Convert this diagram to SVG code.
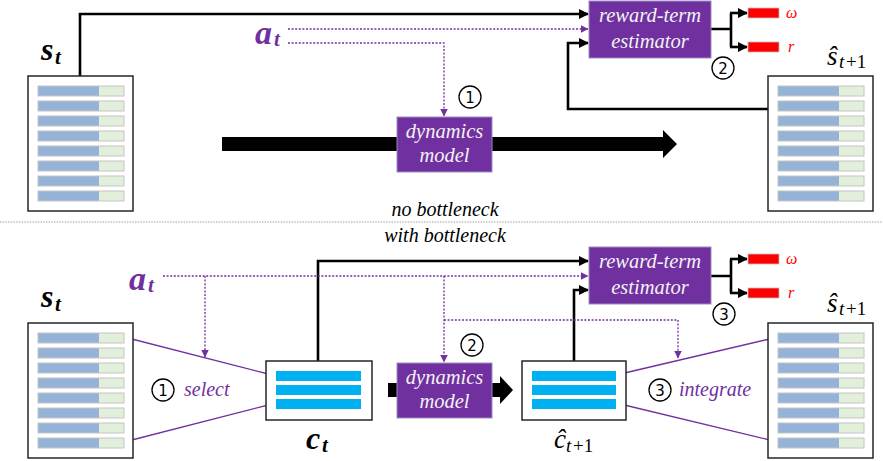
<svg xmlns="http://www.w3.org/2000/svg" xmlns:xlink="http://www.w3.org/1999/xlink" width="883" height="461" viewBox="0 0 883 461">
<style>
.box{fill:#fff;stroke:#262626;stroke-width:1.5}
.pbox{fill:#7030A0;stroke:#9C8DC2;stroke-width:1}
.sf{font-family:'Liberation Serif','Times New Roman','DejaVu Serif',serif}
.ptxt{font-style:italic;font-size:20.5px;fill:#F2F2F2;text-anchor:middle}
.conn{fill:none;stroke:#000;stroke-width:2.6}
.dot{fill:none;stroke:#7030A0;stroke-width:1.3;stroke-dasharray:2 1.6}
.pl{fill:none;stroke:#7030A0;stroke-width:1.4}
.red{fill:#FF0000;stroke:#BFBFBF;stroke-width:0.8}
.rlab{font-style:italic;font-size:16px;fill:#FF0000}
.cap{font-style:italic;font-size:20px;fill:#000;text-anchor:middle}
.ptext{font-style:italic;font-size:20px;fill:#7030A0}
.mb{font-style:italic;font-weight:bold;fill:#000}
.mr{font-style:italic;fill:#000}
.pa{font-style:italic;font-weight:bold;fill:#7030A0}
.circ{fill:none;stroke:#000;stroke-width:1.3}
.num{font-family:'DejaVu Sans',sans-serif;font-size:15px;fill:#000;text-anchor:middle}
.cyan{fill:#00B0F0}
</style>
<defs>
<g id="bar"><rect x="0" y="0" width="61" height="10" fill="#95B3D7"/><rect x="61" y="0" width="25" height="10" fill="#E2EFDA"/><rect x="0" y="0" width="86" height="10" fill="none" stroke="#C4C4C4" stroke-width="1"/></g>
<g id="bars"><use xlink:href="#bar" y="0"/><use xlink:href="#bar" y="15"/><use xlink:href="#bar" y="30"/><use xlink:href="#bar" y="45"/><use xlink:href="#bar" y="60"/><use xlink:href="#bar" y="75"/><use xlink:href="#bar" y="90"/><use xlink:href="#bar" y="105"/></g>
<marker id="ah" markerWidth="10" markerHeight="10" refX="9" refY="5" orient="auto" markerUnits="userSpaceOnUse"><path d="M0,0 L10,5 L0,10 Z" fill="#000"/></marker>
<marker id="ahp" markerWidth="8" markerHeight="8" refX="7.5" refY="4" orient="auto" markerUnits="userSpaceOnUse"><path d="M0,0 L8,4 L0,8 Z" fill="#7030A0"/></marker>
</defs>

<!-- divider -->
<line x1="0" y1="222" x2="883" y2="222" stroke="#A0A0A0" stroke-width="1.2" stroke-dasharray="1.5 1.2"/>
<text class="sf cap" x="445" y="216">no bottleneck</text>
<text class="sf cap" x="445" y="242">with bottleneck</text>

<g id="connectors">
<!-- top -->
<path d="M222,137 H663 V130 L677,144 L663,158 V151 H222 Z" fill="#000"/>
<path class="conn" d="M80,76 V14 H588" marker-end="url(#ah)"/>
<path class="conn" d="M768,109 H568 V43 H588" marker-end="url(#ah)"/>
<path class="dot" d="M288,29 H588" marker-end="url(#ahp)"/>
<path class="dot" d="M288,43 H444 V116" marker-end="url(#ahp)"/>
<path class="conn" d="M711,29 H731 M731,13 V47"/>
<path class="conn" d="M730,13 H747" marker-end="url(#ah)"/>
<path class="conn" d="M730,47 H747" marker-end="url(#ah)"/>
<!-- bottom -->
<path d="M388,383 H500 V376 L513,390 L500,404 V397 H388 Z" fill="#000"/>
<path class="conn" d="M318,361 V261 H588" marker-end="url(#ah)"/>
<path class="conn" d="M574,361 V290 H588" marker-end="url(#ah)"/>
<path class="dot" d="M163,276 H588" marker-end="url(#ahp)"/>
<path class="dot" d="M205,276 V357" marker-end="url(#ahp)"/>
<path class="dot" d="M444,276 V362" marker-end="url(#ahp)"/>
<path class="dot" d="M444,320 H678 V358" marker-end="url(#ahp)"/>
<path class="conn" d="M711,276 H731 M731,259 V293"/>
<path class="conn" d="M730,259 H747" marker-end="url(#ah)"/>
<path class="conn" d="M730,293 H747" marker-end="url(#ah)"/>
<path class="pl" d="M124,337 L276,376 M124,442 L276,403"/>
<path class="pl" d="M616,375 L778,337 M616,403 L778,442"/>
</g>

<!-- TOP -->
<g id="s_t_top">
<rect class="box" x="28" y="76" width="105" height="135"/>
<use xlink:href="#bars" x="38" y="86"/>
<text class="sf mb" x="41" y="60" font-size="32">s</text><text class="sf mb" x="55" y="64" font-size="21">t</text>
</g>
<g id="a_t_top">
<text class="sf pa" x="255" y="44" font-size="34">a</text>
<text class="sf pa" x="274" y="46" font-size="21">t</text>
</g>
<g id="dyn_top">
<rect class="pbox" x="397" y="117" width="95" height="55"/>
<text class="sf ptxt" x="444.5" y="138">dynamics</text>
<text class="sf ptxt" x="444.5" y="162">model</text>
</g>
<g id="est_top">
<rect class="pbox" x="589" y="1" width="122" height="57"/>
<text class="sf ptxt" x="650" y="22">reward-term</text>
<text class="sf ptxt" x="650" y="48">estimator</text>
</g>
<g id="out_top">
<rect class="red" x="748" y="8" width="31" height="10"/>
<rect class="red" x="748" y="42" width="31" height="10"/>
<text class="sf rlab" x="786" y="18">ω</text>
<text class="sf rlab" x="788" y="52">r</text>
</g>
<g id="s_hat_top">
<rect class="box" x="768" y="76" width="105" height="135"/>
<use xlink:href="#bars" x="778" y="86"/>
<text class="sf mr" x="827" y="65" font-size="27">ŝ</text><text class="sf mr" x="839" y="68" font-size="19">t</text><text class="sf" x="846" y="68" font-size="19">+1</text>
</g>
<g id="n1_top"><circle class="circ" cx="470" cy="97" r="11"/><text class="num" x="470" y="102.5">1</text></g>
<g id="n2_top"><circle class="circ" cx="723" cy="68" r="11"/><text class="num" x="723" y="73.5">2</text></g>

<!-- BOTTOM -->
<g id="s_t_bot">
<rect class="box" x="28" y="323" width="105" height="135"/>
<use xlink:href="#bars" x="38" y="333"/>
<text class="sf mb" x="41" y="307" font-size="32">s</text><text class="sf mb" x="55" y="311" font-size="21">t</text>
</g>
<g id="a_t_bot">
<text class="sf pa" x="129" y="290" font-size="34">a</text>
<text class="sf pa" x="148" y="292" font-size="21">t</text>
</g>
<g id="c_t">
<rect class="box" x="266" y="361" width="106" height="59"/>
<rect class="cyan" x="276" y="371" width="85" height="10"/>
<rect class="cyan" x="276" y="385" width="85" height="10"/>
<rect class="cyan" x="276" y="399" width="85" height="10"/>
<text class="sf mb" x="306" y="449" font-size="32">c</text><text class="sf mb" x="322" y="452" font-size="21">t</text>
</g>
<g id="dyn_bot">
<rect class="pbox" x="397" y="363" width="95" height="55"/>
<text class="sf ptxt" x="444.5" y="384">dynamics</text>
<text class="sf ptxt" x="444.5" y="408">model</text>
</g>
<g id="c_hat">
<rect class="box" x="522" y="361" width="104" height="59"/>
<rect class="cyan" x="532" y="371" width="84" height="10"/>
<rect class="cyan" x="532" y="385" width="84" height="10"/>
<rect class="cyan" x="532" y="399" width="84" height="10"/>
<text class="sf mr" x="554" y="448" font-size="27">ĉ</text><text class="sf mr" x="566" y="452" font-size="19">t</text><text class="sf" x="573" y="452" font-size="19">+1</text>
</g>
<g id="est_bot">
<rect class="pbox" x="589" y="247" width="122" height="57"/>
<text class="sf ptxt" x="650" y="268">reward-term</text>
<text class="sf ptxt" x="650" y="294">estimator</text>
</g>
<g id="out_bot">
<rect class="red" x="748" y="254" width="31" height="10"/>
<rect class="red" x="748" y="288" width="31" height="10"/>
<text class="sf rlab" x="786" y="264">ω</text>
<text class="sf rlab" x="788" y="298">r</text>
</g>
<g id="s_hat_bot">
<rect class="box" x="768" y="323" width="105" height="135"/>
<use xlink:href="#bars" x="778" y="333"/>
<text class="sf mr" x="827" y="312" font-size="27">ŝ</text><text class="sf mr" x="839" y="315" font-size="19">t</text><text class="sf" x="846" y="315" font-size="19">+1</text>
</g>
<g id="n2_bot"><circle class="circ" cx="472" cy="345" r="11"/><text class="num" x="472" y="350.5">2</text></g>
<g id="n3_bot"><circle class="circ" cx="724" cy="314" r="11"/><text class="num" x="724" y="319.5">3</text></g>
<g id="select"><circle class="circ" cx="163" cy="390" r="11"/><text class="num" x="163" y="395.5">1</text><text class="sf ptext" x="184" y="396">select</text></g>
<g id="integrate"><circle class="circ" cx="660" cy="390" r="11"/><text class="num" x="660" y="395.5">3</text><text class="sf ptext" x="679" y="396">integrate</text></g>
</svg>
